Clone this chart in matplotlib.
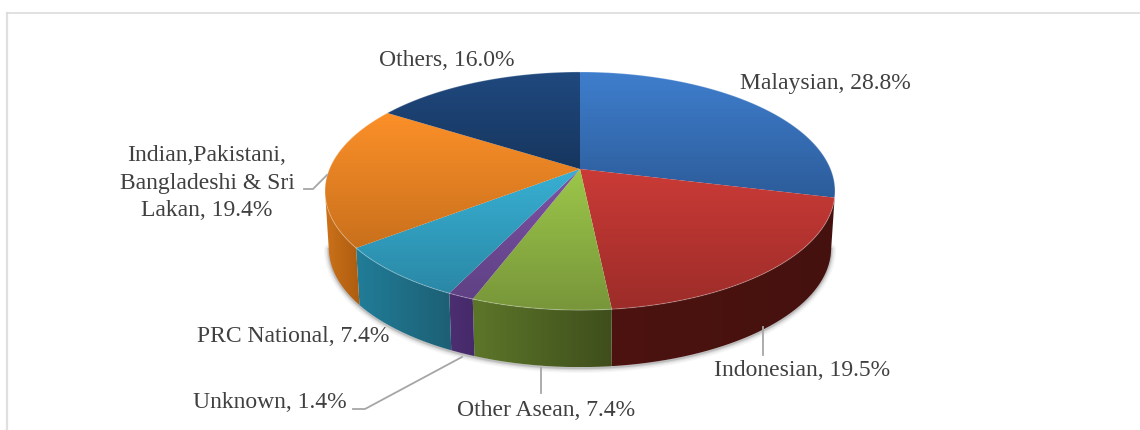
import numpy as np
import matplotlib
matplotlib.use('Agg')
import matplotlib.pyplot as plt
from matplotlib.colors import to_rgb
from matplotlib.path import Path
from matplotlib.patches import PathPatch

categories = ['Malaysian', 'Indonesian', 'Other Asean', 'Unknown', 'PRC National',
              'Indian,Pakistani,\nBangladeshi & Sri\nLakan', 'Others']
values = [28.8, 19.5, 7.4, 1.4, 7.4, 19.4, 16.0]

top_light = ['#3f7ecd', '#cb3b37', '#9cc74a', '#7d52a6', '#38b0d3', '#fc9029', '#20497f']
top_dark = ['#2c5c9a', '#9c2c29', '#78963a', '#5f4184', '#2a88a6', '#c9701c', '#16365e']
side_left = ['#2c5c9a', '#4c1310', '#5c7629', '#4c2f70', '#217d98', '#cc7219', '#16365e']
side_right = ['#2c5c9a', '#45110e', '#3f4e1c', '#46296a', '#1d5f74', '#ad5c10', '#16365e']

label_pos = [(825, 83), (802, 371), (546, 410), (270, 403), (293, 337), (207, 183), (447, 61)]

leaders = [
    [(763, 327), (763, 355)],
    [(541, 368), (541, 393)],
    [(462, 357), (365, 409), (353, 409)],
    [(327, 175), (313, 189), (304, 189)],
]

# perspective of the disc, in picture pixels
cx, cy = 580, 169
R, H, k = 250.6, 115, 0.185
depth = 57
shrink = 0.985


def project(theta):
    s = 1 / (1 + k * np.cos(theta))
    return cx + R * np.sin(theta) * s, cy - H * np.cos(theta) * s


def lower(x, y):
    return cx + (x - cx) * shrink, y + depth


def gradient(ax, xs, ys, c1, c2, horizontal=False):
    c1, c2 = np.array(to_rgb(c1)), np.array(to_rgb(c2))
    t = np.linspace(0, 1, 128)
    img = c1[None, :] * (1 - t[:, None]) + c2[None, :] * t[:, None]
    if horizontal:
        img = img[None, :, :]
    else:
        img = img[:, None, :]
    im = ax.imshow(img, extent=(min(xs), max(xs), max(ys), min(ys)), aspect='auto',
                   interpolation='bilinear', zorder=3)
    verts = np.column_stack([xs, ys])
    patch = PathPatch(Path(np.vstack([verts, verts[0]])), transform=ax.transData,
                      fc='none', ec='none')
    ax.add_patch(patch)
    im.set_clip_path(patch)


fig = plt.figure(figsize=(11.4, 4.3), dpi=100)
ax = fig.add_axes([0, 0, 1, 1])
ax.axis('off')

# chart frame
ax.plot([7, 7], [430, 13], color='#e0e0e0', lw=1.6, zorder=1)
ax.plot([7, 1140], [13, 13], color='#dcdcdc', lw=1.2, zorder=1)

edges = np.cumsum([0] + values) / sum(values) * 2 * np.pi
vis0, vis1 = np.arccos(-k), 2 * np.pi - np.arccos(-k)

# soft shadow under the disc
t = np.linspace(vis0, vis1, 200)
sx, sy = lower(*project(t))
for w, a in [(7, 0.05), (5, 0.07), (3, 0.12), (1.5, 0.2)]:
    ax.plot(sx, sy + 1, color='#555555', lw=w, alpha=a, zorder=2, solid_capstyle='round')

# side wall
for i in range(len(values)):
    a, b = max(edges[i], vis0), min(edges[i + 1], vis1)
    if b <= a:
        continue
    t = np.linspace(a, b, 80)
    x, y = project(t)
    xb, yb = lower(x, y)
    xs = np.r_[x, xb[::-1]]
    ys = np.r_[y, yb[::-1]]
    gradient(ax, xs, ys, side_left[i], side_right[i], horizontal=True)

# top face
for i in range(len(values)):
    t = np.linspace(edges[i], edges[i + 1], 120)
    x, y = project(t)
    xs = np.r_[cx, x]
    ys = np.r_[cy, y]
    gradient(ax, xs, ys, top_light[i], top_dark[i])
    ax.plot(x, y, color='white', lw=0.8, alpha=0.25, zorder=4)

# leader lines
for pts in leaders:
    ax.plot(*zip(*pts), color='#a6a6a6', lw=1.3, zorder=5)

for name, val, (lx, ly) in zip(categories, values, label_pos):
    ax.text(lx, ly, f'{name}, {val:.1f}%', family='Liberation Serif', fontsize=17,
            color='#404040', ha='center', va='center', linespacing=1.38, zorder=6)

ax.set_xlim(0, 1140)
ax.set_ylim(430, 0)
fig.savefig('out.png', dpi=100)
